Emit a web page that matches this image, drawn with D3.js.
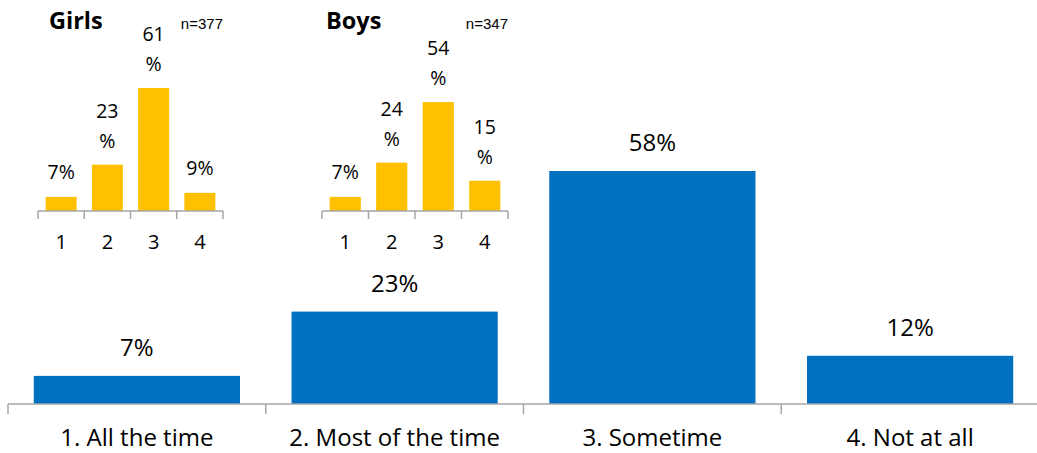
<!DOCTYPE html>
<html>
<head>
<meta charset="utf-8">
<script src="https://cdn.jsdelivr.net/npm/d3@7"></script>
<style>
  html, body { margin: 0; padding: 0; background: #fff; }
  svg { display: block; }
  text { font-family: "Open Sans", Lato, sans-serif; fill: #000; }
</style>
</head>
<body>
<svg id="chart" width="1037" height="453"></svg>
<script>
// Overall answers
const categories = ["1. All the time", "2. Most of the time", "3. Sometime", "4. Not at all"];
const totalValues = [7, 23, 58, 12];

// Breakdown by sex
const shortLabels = ["1", "2", "3", "4"];
const girlsValues = [7, 23, 61, 9];
const boysValues = [7, 24, 54, 15];
const girlsTitle = "Girls", girlsN = "n=377";
const boysTitle = "Boys", boysN = "n=347";

const BLUE = "#0070C0", GOLD = "#FFC000", AXIS = "#A6A6A6";
const svg = d3.select("#chart");

// ---- main chart ----
const baseY = 404;
const x = d3.scaleBand().domain(categories).range([8, 1039])
  .paddingInner(0.2).paddingOuter(0.1);
const y = d3.scaleLinear().domain([0, 58]).range([baseY, 171]);

svg.append("g").selectAll("rect").data(totalValues).join("rect")
  .attr("x", (d, i) => x(categories[i]))
  .attr("y", d => y(d))
  .attr("width", x.bandwidth())
  .attr("height", d => baseY - y(d))
  .attr("fill", BLUE);

svg.append("g").selectAll("text").data(totalValues).join("text")
  .attr("x", (d, i) => x(categories[i]) + x.bandwidth() / 2)
  .attr("y", d => y(d) - 20)
  .attr("text-anchor", "middle")
  .style("font-size", "24px")
  .text(d => d + "%");

const xAxis = svg.append("g").attr("transform", `translate(0,${baseY})`)
  .call(d3.axisBottom(x).tickSize(0).tickFormat(""));
xAxis.select(".domain").attr("stroke", AXIS).attr("stroke-width", 1.5).attr("d", "M8,0H1039");
// boundary ticks between categories
const bounds = d3.range(categories.length + 1).map(i => 8 + i * x.step());
xAxis.selectAll("line.bound").data(bounds).join("line").attr("class", "bound")
  .attr("x1", d => d).attr("x2", d => d).attr("y1", 0).attr("y2", 10)
  .attr("stroke", AXIS).attr("stroke-width", 1.5);
svg.append("g").selectAll("text").data(categories).join("text")
  .attr("x", d => x(d) + x.bandwidth() / 2)
  .attr("y", 446)
  .attr("text-anchor", "middle")
  .style("font-size", "24px")
  .text(d => d);

// ---- small breakdown charts ----
function inset(values, title, nText, x0, x1, titleX) {
  const g = svg.append("g");
  const base = 211;
  const sx = d3.scaleBand().domain(shortLabels).range([x0, x1])
    .paddingInner(0.33).paddingOuter(0.165);
  const sy = d3.scaleLinear().domain([0, 61]).range([base, 88]);

  g.selectAll("rect").data(values).join("rect")
    .attr("x", (d, i) => sx(shortLabels[i]))
    .attr("y", d => sy(d))
    .attr("width", sx.bandwidth())
    .attr("height", d => base - sy(d))
    .attr("fill", GOLD);

  // value labels wrap onto two lines when wider than the bar
  g.selectAll("text.val").data(values).join("text").attr("class", "val")
    .attr("text-anchor", "middle")
    .style("font-size", "19.5px")
    .each(function (d, i) {
      const t = d3.select(this);
      const cx = sx(shortLabels[i]) + sx.bandwidth() / 2;
      const top = sy(d);
      t.text(d + "%");
      if (this.getComputedTextLength() > sx.bandwidth() + 2) {
        t.text(null);
        t.append("tspan").attr("x", cx).attr("y", top - 47).text(d);
        t.append("tspan").attr("x", cx).attr("y", top - 17).text("%");
      } else {
        t.attr("x", cx).attr("y", top - 18);
      }
    });

  const step = sx.step();
  const edges = d3.range(shortLabels.length + 1).map(i => x0 + i * step);
  g.append("line").attr("x1", x0).attr("x2", x1).attr("y1", base).attr("y2", base)
    .attr("stroke", AXIS).attr("stroke-width", 1.5);
  g.selectAll("line.tk").data(edges).join("line").attr("class", "tk")
    .attr("x1", d => d).attr("x2", d => d).attr("y1", base).attr("y2", base + 8)
    .attr("stroke", AXIS).attr("stroke-width", 1.5);
  g.selectAll("text.cat").data(shortLabels).join("text").attr("class", "cat")
    .attr("x", d => sx(d) + sx.bandwidth() / 2)
    .attr("y", 249)
    .attr("text-anchor", "middle")
    .style("font-size", "20px")
    .text(d => d);

  g.append("text").attr("x", titleX).attr("y", 29)
    .style("font-size", "23.5px").style("font-weight", "bold")
    .text(title);
  g.append("text").attr("x", x1).attr("y", 29)
    .attr("text-anchor", "end")
    .style("font-family", "'Liberation Sans', Arial, sans-serif")
    .style("font-size", "15px")
    .text(nText);
}

inset(girlsValues, girlsTitle, girlsN, 38, 223, 49);
inset(boysValues, boysTitle, boysN, 322, 508, 326);
</script>
</body>
</html>
